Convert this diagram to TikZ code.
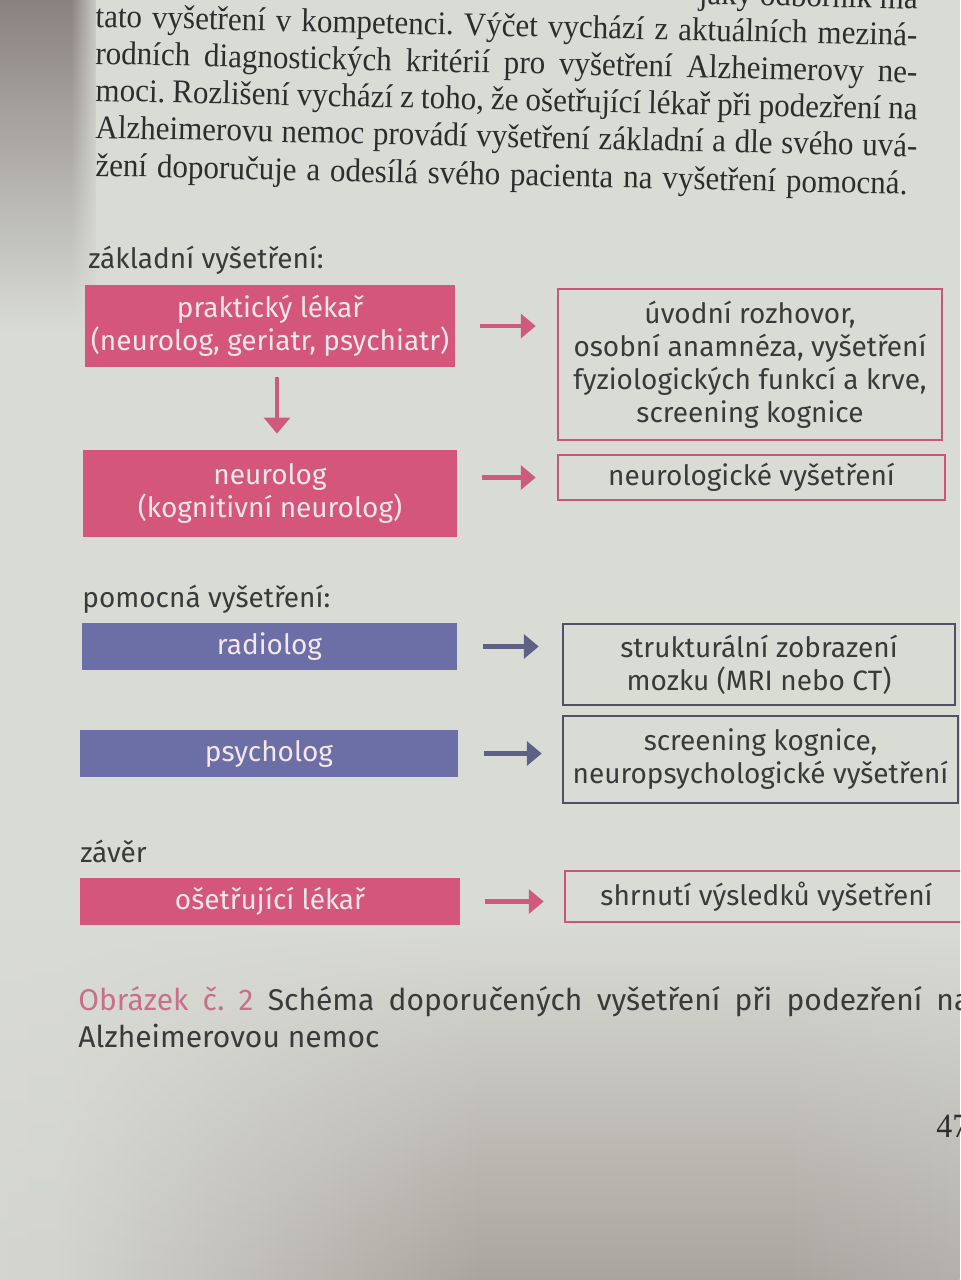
\documentclass[tikz,border=0pt]{standalone}
\usepackage{fontspec}
\setmainfont{Liberation Serif}[FakeStretch=0.94]
\newfontfamily\diagfont{Fira Sans}
\usetikzlibrary{arrows.meta,fadings}
\frenchspacing

\definecolor{pagebg}{HTML}{D9DCD5}
\definecolor{gutter}{HTML}{8A827E}
\definecolor{shadowbr}{HTML}{ABA59F}
\definecolor{shadowgr}{HTML}{BAB9B4}
\definecolor{ink}{HTML}{3B3A3A}
\definecolor{bodyink}{HTML}{2E2D2D}
\definecolor{pinkfill}{HTML}{D4567A}
\definecolor{bluefill}{HTML}{6B6FA6}
\definecolor{pinkline}{HTML}{C9577A}
\definecolor{slateline}{HTML}{4F5064}
\definecolor{pinkarrow}{HTML}{CF5A7D}
\definecolor{bluearrow}{HTML}{5F6184}
\definecolor{boxtext}{HTML}{F4E6EC}
\definecolor{captionpink}{HTML}{C8708B}

% soft light fall-off along the lower part of the page
\pgfdeclarehorizontalshading{lowerlight}{100bp}{
  color(0bp)=(pagebg); color(28bp)=(pagebg!85!shadowbr); color(50bp)=(shadowbr);
  color(66bp)=(shadowbr); color(82bp)=(shadowgr); color(100bp)=(shadowgr)}
% dark book gutter at the upper left
\pgfdeclarehorizontalshading{gutterlight}{100bp}{
  color(0bp)=(gutter); color(62bp)=(gutter); color(78bp)=(pagebg); color(100bp)=(pagebg)}

\begin{document}
\begin{tikzpicture}[x=0.5pt,y=-0.5pt,
  bodytext/.style={inner sep=0pt, text=bodyink, font=\fontsize{16.5}{19}\selectfont},
  diag/.style={font=\diagfont\fontsize{14}{16.5}\selectfont},
  label/.style={diag, inner sep=0pt, text=ink, anchor=base west},
  solidbox/.style={diag, inner sep=0pt, align=center, text=boxtext},
  pinkbox/.style={solidbox, fill=pinkfill},
  bluebox/.style={solidbox, fill=bluefill},
  framebox/.style={diag, inner sep=0pt, align=center, text=ink, line width=1.25pt},
  pinkframe/.style={framebox, draw=pinkline},
  slateframe/.style={framebox, draw=slateline},
  parr/.style={draw=pinkarrow, line width=2.2pt, -{Triangle[length=7.5pt,width=12pt]}},
  barr/.style={draw=bluearrow, line width=2.2pt, -{Triangle[length=7.5pt,width=12pt]}},
  caption/.style={font=\diagfont\fontsize{15}{18}\selectfont, inner sep=0pt, text=ink, anchor=base west}
]
\useasboundingbox (0,0) rectangle (960,1280);
\clip (0,0) rectangle (960,1280);

% paper and lighting
\fill[pagebg] (0,0) rectangle (960,1280);
\shade[shading=gutterlight, path fading=south] (0,0) rectangle (96,330);
\shade[shading=lowerlight, path fading=north] (0,920) rectangle (960,1280);

% running text above the figure
\node[bodytext, anchor=base east, rotate=-1.3] (p0) at (918,9) {jaký odborník má};
\node[bodytext, anchor=base west, rotate=-1.3] (p1) at (95,27)
  {\makebox[411pt][s]{tato vyšetření v kompetenci. Výčet vychází z aktuálních meziná-}};
\node[bodytext, anchor=base west, rotate=-1.3] (p2) at (95,64)
  {\makebox[411pt][s]{rodních diagnostických kritérií pro vyšetření Alzheimerovy ne-}};
\node[bodytext, anchor=base west, rotate=-1.3] (p3) at (95,101)
  {\makebox[411pt][s]{moci. Rozlišení vychází z toho, že ošetřující lékař při podezření na}};
\node[bodytext, anchor=base west, rotate=-1.3] (p4) at (95,138)
  {\makebox[411pt][s]{Alzheimerovu nemoc provádí vyšetření základní a dle svého uvá-}};
\node[bodytext, anchor=base west, rotate=-1.3] (p5) at (95,176)
  {\makebox[406pt][s]{žení doporučuje a odesílá svého pacienta na vyšetření pomocná.}};

% section labels
\node[label] (lzakl) at (88,268) {základní vyšetření:};
\node[label] (lpom) at (82,607) {pomocná vyšetření:};
\node[label] (lzav) at (80,862) {závěr};

% basic examinations
\node[pinkbox, minimum width=185pt, minimum height=41pt] (pk) at (270,326)
  {praktický lékař\\(neurolog, geriatr, psychiatr)};
\node[pinkbox, minimum width=187pt, minimum height=43.5pt] (neu) at (270,493.5)
  {neurolog\\(kognitivní neurolog)};
\node[pinkframe, minimum width=192pt, minimum height=75.5pt] (out1) at (750,364.5)
  {úvodní rozhovor,\\osobní anamnéza, vyšetření\\fyziologických funkcí a krve,\\screening kognice};
\node[pinkframe, minimum width=193.5pt, minimum height=22.5pt] (out2) at (751.5,477.5)
  {neurologické vyšetření};

% auxiliary examinations
\node[bluebox, minimum width=187.5pt, minimum height=23.5pt] (rad) at (269.5,646.5) {radiolog};
\node[slateframe, minimum width=196pt, minimum height=40.5pt] (out3) at (759,664.5)
  {strukturální zobrazení\\mozku (MRI nebo CT)};
\node[bluebox, minimum width=189pt, minimum height=23.5pt] (psy) at (269,753.5) {psycholog};
\node[slateframe, minimum width=197.5pt, minimum height=43.5pt] (out4) at (760.5,759.5)
  {screening kognice,\\neuropsychologické vyšetření};

% conclusion
\node[pinkbox, minimum width=190pt, minimum height=23.5pt] (ose) at (270,901.5) {ošetřující lékař};
\node[pinkframe, minimum width=201.5pt, minimum height=25.5pt] (out5) at (766.5,896.5)
  {shrnutí výsledků vyšetření};

% connectors
\draw[parr, shorten <=12.5pt, shorten >=10.5pt] (pk.east) -- (pk.east -| out1.west);
\draw[draw=pinkarrow, line width=1.7pt, -{Triangle[length=8pt,width=13pt]},
      shorten <=5pt, shorten >=8pt] ([xshift=3.5pt]pk.south) -- ([xshift=3.5pt]neu.north);
\draw[parr, shorten <=12.5pt, shorten >=10.5pt] (neu.east |- out2.west) -- (out2.west);
\draw[barr, shorten <=13pt, shorten >=11.5pt] (rad.east) -- (rad.east -| out3.west);
\draw[barr, shorten <=13pt, shorten >=10pt] (psy.east) -- (psy.east -| out4.west);
\draw[parr, shorten <=12.5pt, shorten >=10pt] (ose.east) -- (ose.east -| out5.west);

% caption
\node[caption] (cap1) at (78,1010)
  {\makebox[446pt][s]{\textcolor{captionpink}{Obrázek č. 2} Schéma doporučených vyšetření při podezření na}};
\node[caption] (cap2) at (78,1047) {Alzheimerovou nemoc};

% page number
\node[bodytext, anchor=base west, font=\fontsize{17}{20}\selectfont] (pg) at (936,1137) {47};
\end{tikzpicture}
\end{document}
